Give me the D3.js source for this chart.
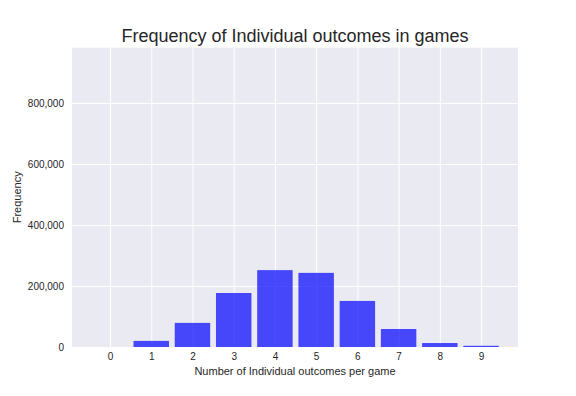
<!DOCTYPE html>
<html lang="en">
<head>
    <meta charset="utf-8">
    <title>Frequency of Individual outcomes in games</title>
    <style type="text/css">
        body { margin: 0; background: #fff; }
        svg text { font-family: "Liberation Sans", Arial, sans-serif; fill: #262626; }
        .grid line { stroke: #fff; stroke-width: 1; }
        .grid path { display: none; }
        .axis path, .axis line { display: none; }
    </style>
</head>
<body>
   <svg class="chart" width="576" height="396"></svg>

   <script src="https://d3js.org/d3.v7.min.js"></script>
   <script>
        // data
        var outcomes = [0, 1, 2, 3, 4, 5, 6, 7, 8, 9];
        var frequency = [0, 20000, 79000, 177000, 252000, 243000, 151000, 59000, 13000, 4000];
        var yTicks = [0, 200000, 400000, 600000, 800000];

        var svg = d3.select('.chart'),
            padding = {top: 47.7, right: 58, bottom: 49, left: 72},
            plot_w = 576 - padding.left - padding.right,
            plot_h = 396 - padding.top - padding.bottom;

        var g = svg.append('g')
                .attr('transform', 'translate(' + padding.left + ',' + padding.top + ')');

        // scales
        var x = d3.scaleLinear().domain([-0.922, 9.896]).range([0, plot_w]),
            y = d3.scaleLinear().domain([0, 981000]).range([plot_h, 0]);

        var barW = 0.86;

        // background
        g.append('rect')
            .attr('width', plot_w)
            .attr('height', plot_h)
            .attr('fill', '#eaeaf2');

        // grid
        g.append('g')
            .attr('class', 'grid')
            .call(d3.axisLeft(y).tickValues(yTicks).tickSize(-plot_w).tickFormat(''));

        g.append('g')
            .attr('class', 'grid')
            .attr('transform', 'translate(0,' + plot_h + ')')
            .call(d3.axisBottom(x).tickValues(outcomes).tickSize(plot_h).tickFormat(''))
            .selectAll('line').attr('y2', -plot_h);

        // bars
        g.selectAll('.bar')
            .data(outcomes)
            .enter().append('rect')
            .attr('class', 'bar')
            .attr('x', function(d) { return x(d - barW / 2); })
            .attr('width', function(d) { return x(barW) - x(0); })
            .attr('y', function(d, i) { return y(frequency[i]); })
            .attr('height', function(d, i) { return plot_h - y(frequency[i]); })
            .attr('fill', '#0000ff')
            .attr('fill-opacity', 0.7);

        // axes labels
        var yAxis = g.append('g')
            .attr('class', 'axis')
            .call(d3.axisLeft(y).tickValues(yTicks).tickSize(0).tickPadding(8)
                    .tickFormat(d3.format(',')));
        yAxis.selectAll('text').style('font-size', '10px');

        var xAxis = g.append('g')
            .attr('class', 'axis')
            .attr('transform', 'translate(0,' + plot_h + ')')
            .call(d3.axisBottom(x).tickValues(outcomes).tickSize(0).tickPadding(6)
                    .tickFormat(d3.format('d')));
        xAxis.selectAll('text').style('font-size', '10px');

        // title and axis titles
        svg.append('text')
            .attr('x', padding.left + plot_w / 2)
            .attr('y', 41.5)
            .attr('text-anchor', 'middle')
            .style('font-size', '18px')
            .text('Frequency of Individual outcomes in games');

        svg.append('text')
            .attr('x', padding.left + plot_w / 2)
            .attr('y', 375)
            .attr('text-anchor', 'middle')
            .style('font-size', '11px')
            .text('Number of Individual outcomes per game');

        svg.append('text')
            .attr('transform', 'translate(21,' + (padding.top + plot_h / 2) + ') rotate(-90)')
            .attr('text-anchor', 'middle')
            .style('font-size', '11px')
            .text('Frequency');
   </script>
</body>
</html>
